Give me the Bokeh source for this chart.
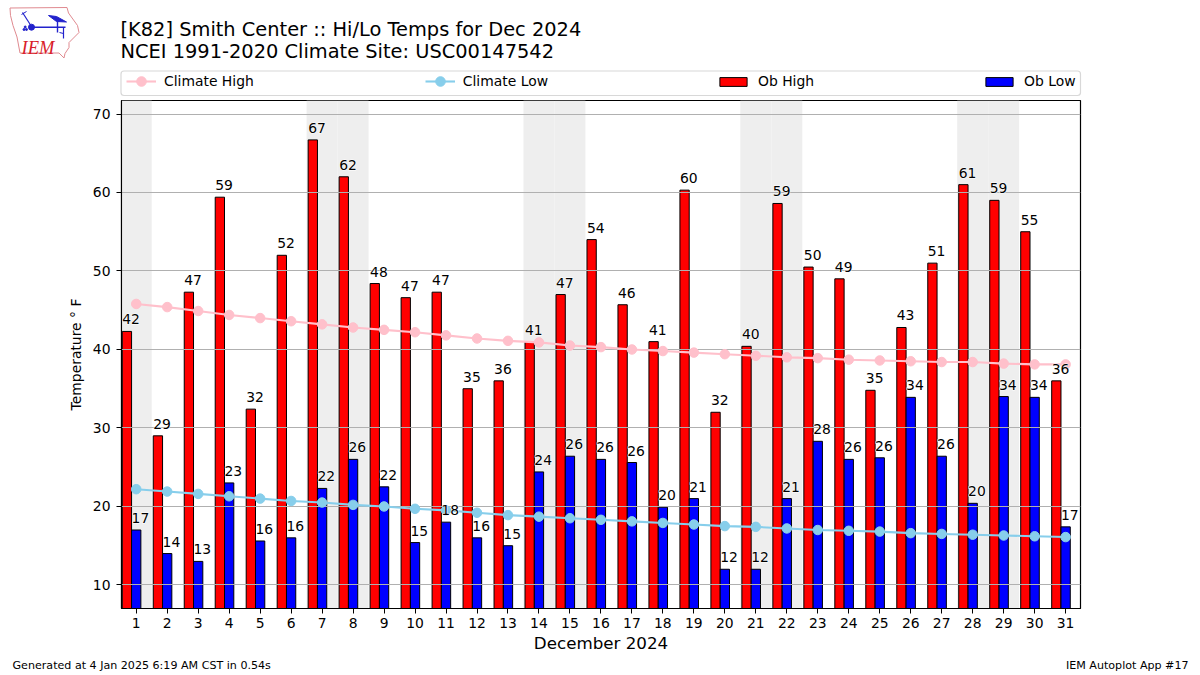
from bokeh.embed import file_html
from bokeh.resources import INLINE
from bokeh.plotting import figure
from bokeh.layouts import column
from bokeh.models import ColumnDataSource, Legend, LegendItem, Range1d, FixedTicker
from bokeh.core.properties import value

days = list(range(1, 32))
ob_high = [42.3, 29, 47.3, 59.4, 32.4, 52, 66.7, 62, 48.4, 46.6, 47.3, 35, 36, 41, 47, 54,
           45.7, 41, 60.3, 32, 40.4, 58.6, 50.5, 49, 34.8, 42.8, 51, 61, 59, 55, 36]
ob_low = [17, 14, 13, 23, 15.6, 16, 22.3, 26, 22.5, 15.4, 18, 16, 15, 24.4, 26.4, 26,
          25.6, 19.9, 21, 12, 12, 21, 28.3, 26, 26.2, 33.9, 26.4, 20.4, 34, 33.9, 17.4]
climate_high = [45.8, 45.4, 44.9, 44.4, 44.0, 43.6, 43.2, 42.8, 42.5, 42.2, 41.8, 41.4, 41.1,
                40.9, 40.5, 40.3, 40.0, 39.8, 39.6, 39.4, 39.2, 39.0, 38.9, 38.7, 38.6, 38.5,
                38.4, 38.4, 38.2, 38.1, 38.1]
climate_low = [22.2, 21.9, 21.6, 21.3, 21.0, 20.7, 20.5, 20.2, 20.0, 19.7, 19.5, 19.2, 18.9,
               18.7, 18.5, 18.3, 18.1, 17.9, 17.7, 17.5, 17.4, 17.2, 17.0, 16.9, 16.8, 16.6,
               16.5, 16.4, 16.3, 16.2, 16.1]
weekend_days = [1, 7, 8, 14, 15, 21, 22, 28, 29]
y_ticks = [10, 20, 30, 40, 50, 60, 70]
title_lines = ["[K82] Smith Center :: Hi/Lo Temps for Dec 2024",
               "NCEI 1991-2020 Climate Site: USC00147542"]
footer_left = "Generated at 4 Jan 2025 6:19 AM CST in 0.54s"
footer_right = "IEM Autoplot App #17"

FONT = "DejaVu Sans"
BAR_W = 0.3
PINK, SKY = "#ffc0cb", "#87ceeb"
HEAD_H, FOOT_H = 99, 20
L, R, B = 121, 1080, 608      # frame edges in page pixels
T = HEAD_H + 1
PAGE_W, PAGE_H = 1200, 675
MAIN_H = PAGE_H - HEAD_H - FOOT_H
NAN = float("nan")

YMIN, YMAX = 7.0, 71.72
PX_PER_Y = (B - T) / (YMAX - YMIN)
LABEL_GAP = 12 / PX_PER_Y

p = figure(width=PAGE_W, height=MAIN_H, output_backend="svg", toolbar_location=None,
           x_range=Range1d(0.525, 31.48), y_range=Range1d(YMIN, YMAX),
           min_border_left=L, min_border_right=PAGE_W - R,
           min_border_top=1, min_border_bottom=PAGE_H - FOOT_H - B,
           frame_width=R - L, frame_height=B - T, frame_align=False)
p.background_fill_color = "white"
p.border_fill_color = "white"
p.outline_line_color = "black"
p.outline_line_width = 1.2

src = ColumnDataSource(dict(
    day=days,
    hi=ob_high, lo=ob_low, chi=climate_high, clo=climate_low,
    hi_x=[d - BAR_W for d in days],
    hi_left=[d - 1.5 * BAR_W for d in days],
    lo_left=[d - 0.5 * BAR_W for d in days],
    hi_y=[v + LABEL_GAP for v in ob_high],
    lo_y=[v + LABEL_GAP for v in ob_low],
    hi_txt=[str(round(v)) for v in ob_high],
    lo_txt=[str(round(v)) for v in ob_low],
))

# Weekend shading
p.vbar(x=weekend_days, width=1.0, bottom=0, top=100, fill_color="#eeeeee",
       line_color=None, level="image")

p.vbar(x="hi_x", width=BAR_W, bottom=0, top="hi", source=src, fill_color="#ff0000",
       line_color="black", line_width=1, level="image")
p.vbar(x="day", width=BAR_W, bottom=0, top="lo", source=src, fill_color="#0000ff",
       line_color="black", line_width=1, level="image")

# Gridlines sit over the bars and under the lines
p.xgrid.visible = False
p.ygrid.ticker = FixedTicker(ticks=y_ticks)
p.ygrid.grid_line_color = "#b0b0b0"
p.ygrid.grid_line_width = 1.1
p.ygrid.level = "underlay"

p.line("day", "chi", source=src, line_color=PINK, line_width=2.1)
p.scatter("day", "chi", source=src, marker="circle", size=9.5, fill_color=PINK, line_color=PINK)
p.line("day", "clo", source=src, line_color=SKY, line_width=2.1)
p.scatter("day", "clo", source=src, marker="circle", size=9.5, fill_color=SKY, line_color=SKY)

# Bar labels: a white halo below, black text above
for xcol, ycol, tcol in (("hi_left", "hi_y", "hi_txt"), ("lo_left", "lo_y", "lo_txt")):
    p.text(x=xcol, y=ycol, text=tcol, source=src, text_font=value(FONT),
           text_font_size="13.9px", text_color="white", text_align="left",
           text_baseline="alphabetic", text_outline_color="white", level="overlay")
    p.text(x=xcol, y=ycol, text=tcol, source=src, text_font=value(FONT),
           text_font_size="13.9px", text_color="black", text_align="left",
           text_baseline="alphabetic", level="overlay")

# Axes
p.xaxis.ticker = FixedTicker(ticks=days)
p.yaxis.ticker = FixedTicker(ticks=y_ticks)
for ax in (p.xaxis[0], p.yaxis[0]):
    ax.major_label_text_font = FONT
    ax.major_label_text_font_size = "13.9px"
    ax.major_label_text_color = "black"
    ax.major_tick_in = 0
    ax.major_tick_out = 5
    ax.major_tick_line_color = "black"
    ax.minor_tick_line_color = None
    ax.axis_line_color = "black"
    ax.axis_line_width = 1.1
    ax.axis_label_text_font = FONT
    ax.axis_label_text_font_style = "normal"
    ax.axis_label_text_color = "black"
p.xaxis.axis_label = "December 2024"
p.xaxis.axis_label_text_font_size = "16.7px"
p.xaxis.axis_label_standoff = 2
p.xaxis.major_label_standoff = 4
p.yaxis.axis_label = "Temperature ° F"
p.yaxis.axis_label_text_font_size = "13.9px"
p.yaxis.axis_label_standoff = 6
p.yaxis.major_label_standoff = 6


def strip(height, top_px):
    """A bare full-width figure whose data coordinates are page pixels."""
    f = figure(width=PAGE_W, height=height, output_backend="svg", toolbar_location=None,
               x_range=Range1d(0, PAGE_W), y_range=Range1d(top_px + height, top_px),
               x_axis_location=None, y_axis_location=None, frame_align=False,
               min_border_left=0, min_border_right=0, min_border_top=0, min_border_bottom=0)
    f.grid.visible = False
    f.outline_line_color = None
    f.background_fill_color = "white"
    f.border_fill_color = "white"
    return f


head = strip(HEAD_H, 0)
head.text(x=[120, 120], y=[29, 50.5], text=title_lines, text_font=value(FONT),
          text_font_size="19.4px", text_color="black", text_baseline="alphabetic")

# Logo
RED_OUT = "#e08a90"
BLUE = "#2222cc"
head.line([9.5, 66.5, 68, 77, 78.5, 68.5, 68.5, 64.5, 63.5, 58.5, 19.5, 16.5, 12.5, 10, 9.5],
          [7.5, 7, 12.5, 25, 32, 42, 47, 53, 57.5, 52.5, 52.5, 36.5, 25, 15, 7.5],
          line_color=RED_OUT, line_width=1)
head.line([31, 65], [26.7, 26.7], line_color=BLUE, line_width=1.6)
head.line([22, 31], [12, 26], line_color=BLUE, line_width=1.2)
head.line([21, 26], [14, 11], line_color=BLUE, line_width=1)
head.line([57, 57], [21, 32], line_color=BLUE, line_width=1.4)
head.line([63, 63], [27, 38], line_color=BLUE, line_width=1.2)
head.line([59, 63], [32, 33], line_color=BLUE, line_width=1)
head.patch([48, 56, 66, 56], [15, 16, 21.5, 21], fill_color=BLUE, line_color=BLUE)
head.scatter([31], [26.7], marker="circle", size=6, fill_color=BLUE, line_color=BLUE)
head.scatter([23.5, 26, 24.7], [29, 29, 26.5], marker="circle", size=2, fill_color=BLUE, line_color=BLUE)
head.text(x=[21], y=[47], text=["IEM"], text_font=value("Liberation Serif"),
          text_font_style="italic", text_font_size="18.5px", text_color="#d8202a",
          text_baseline="alphabetic")

# Legend frame
head.quad(left=[120.5], right=[1080], top=[70.5], bottom=[95], fill_color="white",
          line_color="#d8d8d8", line_width=1.2, border_radius=3)

# Legend keys carry the same styles as the marks in the chart (NaN: nothing is drawn)
key_hi_l = head.line(x=[NAN], y=[NAN], line_color=PINK, line_width=2.1)
key_hi_c = head.scatter(x=[NAN], y=[NAN], marker="circle", size=9.5, fill_color=PINK, line_color=PINK)
key_lo_l = head.line(x=[NAN], y=[NAN], line_color=SKY, line_width=2.1)
key_lo_c = head.scatter(x=[NAN], y=[NAN], marker="circle", size=9.5, fill_color=SKY, line_color=SKY)
key_ob_h = head.vbar(x=[NAN], top=[NAN], width=1, fill_color="#ff0000", line_color="black")
key_ob_l = head.vbar(x=[NAN], top=[NAN], width=1, fill_color="#0000ff", line_color="black")

LEGEND_TEXT = dict(label_text_font=FONT, label_text_font_size="13.9px", label_text_color="black",
                   orientation="horizontal", margin=0, padding=0, label_width=10,
                   border_line_color=None, background_fill_color=None, background_fill_alpha=0)

# Tall key boxes give the line-and-dot keys their full marker size
legend_lines = Legend(
    items=[LegendItem(label="Climate High", renderers=[key_hi_l, key_hi_c]),
           LegendItem(label="Climate Low", renderers=[key_lo_l, key_lo_c])],
    location=(126, 6), spacing=171, glyph_width=30, glyph_height=24, label_standoff=8,
    label_height=13, **LEGEND_TEXT)
legend_bars = Legend(
    items=[LegendItem(label="Ob High", renderers=[key_ob_h]),
           LegendItem(label="Ob Low", renderers=[key_ob_l])],
    location=(716, 10), spacing=168, glyph_width=34, glyph_height=11, label_standoff=8,
    label_height=13, **LEGEND_TEXT)
head.add_layout(legend_lines, "center")
head.add_layout(legend_bars, "center")

foot = strip(FOOT_H, PAGE_H - FOOT_H)
foot.text(x=[12], y=[665], text=[footer_left], text_font=value(FONT), text_font_size="11.1px",
          text_color="black", text_baseline="alphabetic")
foot.text(x=[1188], y=[665], text=[footer_right], text_font=value(FONT), text_font_size="11.1px",
          text_color="black", text_align="right", text_baseline="alphabetic")

open("out.html", "w").write(file_html(column(head, p, foot, spacing=0), INLINE))
